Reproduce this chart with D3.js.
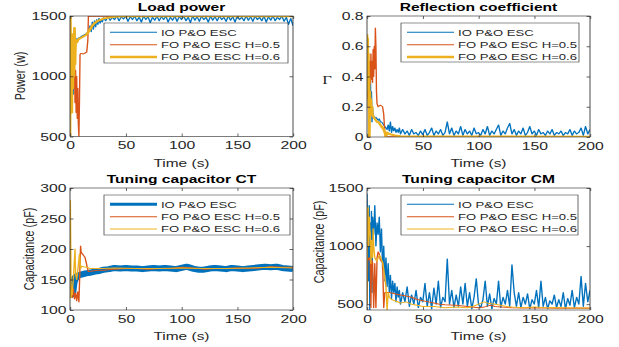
<!DOCTYPE html>
<html>
<head>
<meta charset="utf-8">
<script src="https://cdn.jsdelivr.net/npm/d3@7"></script>
<style>
  body { margin: 0; background: #fff; }
  svg { display: block; }
  text { font-family: "Liberation Sans", Arial, Helvetica, sans-serif; fill: #262626; }
</style>
</head>
<body>
<svg id="chart"></svg>
<script>
// ---- data: [time (s), value] ----
const seriesNames = ['IO P&O ESC', 'FO P&O ESC H=0.5', 'FO P&O ESC H=0.6'];
const xTicks = [0, 50, 100, 150, 200];

const powerIO = [[0,1050],[0.5,1250],[1,1100],[1.5,1350],[2,1060],[2.5,1300],[3,850],[3.5,1150],[4,1380],[4.5,1250],
  [5,1320],[6,1290],[7,1310],[8,1320],[9,1315],[10,1330],[11,1335],[12,1340],[13,1345],[14,1350],[15,1355],[16,1370],
  [17,1380],[18,1420],[19,1370],[20,1450],[21,1390],[22,1460],[23,1410],[24,1470],[25,1430],[26,1480],[27,1440],
  [28,1470],[29,1450],[30,1485],[32,1460],[34,1495],[36,1465],[38,1490],[40,1470],[42,1500],[44,1460],[46,1495],
  [48,1475],[50,1500],[52,1455],[54,1495],[56,1470],[58,1500],[60,1460],[62,1490],[64,1450],[66,1500],[68,1470],
  [70,1495],[72,1445],[74,1490],[76,1465],[78,1500],[80,1460],[82,1495],[84,1470],[86,1500],[88,1450],[90,1490],
  [92,1465],[94,1500],[96,1455],[98,1495],[100,1470],[102,1500],[104,1460],[106,1490],[108,1445],[110,1500],
  [112,1465],[114,1495],[116,1455],[118,1500],[120,1470],[122,1490],[124,1450],[126,1500],[128,1465],[130,1495],
  [132,1460],[134,1500],[136,1470],[138,1490],[140,1455],[142,1500],[144,1465],[146,1495],[148,1450],[150,1500],
  [152,1470],[154,1490],[156,1460],[158,1500],[160,1465],[162,1495],[164,1455],[166,1500],[168,1470],[170,1490],
  [172,1460],[174,1500],[176,1450],[178,1495],[180,1465],[182,1500],[184,1460],[186,1490],[188,1470],[190,1500],
  [192,1455],[194,1490],[196,1430],[198,1480],[200,1420]];
const powerH5 = [[0,600],[0.5,1000],[1,1150],[1.5,900],[2,1250],[2.5,1000],[3,1200],[3.5,900],[4,1100],[4.5,780],
  [5,1050],[5.5,700],[6,1000],[6.5,650],[7,900],[7.5,600],[8,500],[8.5,800],[9,1180],[10,1190],[12,1185],[14,1195],
  [15,1200],[16,1300],[16.5,1498],[200,1498]];
const powerH6 = [[0,500],[0.3,1500],[0.8,1000],[1.2,1300],[1.6,700],[2,1200],[2.5,900],[3,1350],[3.5,1000],[4,1400],
  [4.5,1100],[5,1300],[6,1280],[7,1300],[8,1310],[10,1320],[12,1330],[14,1340],[16,1360],[18,1390],[20,1420],
  [22,1440],[25,1460],[30,1478],[35,1488],[40,1493],[50,1497],[200,1498]];

const gammaIO = [[0,0.35],[0.5,0.28],[1,0.42],[1.5,0.25],[2,0.38],[2.5,0.2],[3,0.44],[3.5,0.15],[4,0.3],[4.5,0.1],
  [5,0.2],[5.5,0.13],[6,0.14],[7,0.12],[8,0.13],[9,0.12],[10,0.11],[11,0.12],[12,0.1],[13,0.1],[14,0.09],[15,0.08],
  [16,0.07],[17,0.06],[18,0.05],[19,0.08],[20,0.04],[21,0.1],[22,0.03],[23,0.07],[24,0.04],[25,0.06],[26,0.03],
  [27,0.05],[28,0.03],[29,0.06],[30,0.02],[32,0.05],[34,0.02],[36,0.04],[38,0.01],[40,0.05],[42,0.02],[44,0.03],
  [46,0.01],[48,0.04],[50,0.015],[52,0.05],[54,0.01],[56,0.03],[58,0.06],[60,0.01],[62,0.04],[64,0.02],[66,0.05],
  [68,0.01],[70,0.03],[72,0.1],[74,0.02],[76,0.06],[78,0.01],[80,0.04],[82,0.02],[84,0.07],[86,0.01],[88,0.05],
  [90,0.02],[92,0.04],[94,0.01],[96,0.06],[98,0.02],[100,0.03],[102,0.01],[104,0.05],[106,0.02],[108,0.07],
  [110,0.01],[112,0.04],[114,0.02],[116,0.05],[118,0.08],[120,0.01],[122,0.04],[124,0.02],[126,0.06],[128,0.09],
  [130,0.02],[132,0.05],[134,0.01],[136,0.04],[138,0.02],[140,0.06],[142,0.01],[144,0.03],[146,0.07],[148,0.02],
  [150,0.04],[152,0.01],[154,0.05],[156,0.02],[158,0.03],[160,0.01],[162,0.04],[164,0.02],[166,0.05],[168,0.01],
  [170,0.03],[172,0.02],[174,0.04],[176,0.01],[178,0.03],[180,0.02],[182,0.05],[184,0.01],[186,0.04],[188,0.02],
  [190,0.03],[192,0.06],[194,0.01],[196,0.07],[198,0.02],[200,0.05]];
const gammaH5 = [[0,0.25],[0.5,0.4],[1,0.3],[1.5,0.45],[2,0.33],[2.5,0.5],[3,0.35],[3.5,0.55],[4,0.38],[4.5,0.5],
  [5,0.36],[5.5,0.58],[6,0.4],[6.5,0.6],[7,0.45],[7.5,0.72],[8,0.6],[8.5,0.3],[9,0.22],[10,0.2],[12,0.21],[14,0.2],
  [15,0.15],[16,0.02],[17,0.005],[200,0.003]];
const gammaH6 = [[0,0.68],[0.3,0.5],[0.6,0.65],[0.9,0.3],[1.2,0.55],[1.5,0.2],[1.8,0.4],[2.1,0],[2.5,0.3],[3,0.2],
  [3.5,0.25],[4,0.15],[4.5,0.2],[5,0.14],[6,0.13],[7,0.12],[8,0.11],[9,0.1],[10,0.1],[11,0.09],[12,0.08],[13,0.07],
  [14,0.06],[15,0.05],[16,0.03],[17,0],[18,0.03],[20,0.02],[25,0.01],[30,0.005],[200,0.002]];

const ctIO = [[0,135],[1,125],[2,130],[3,145],[4,150],[5,153],[6,155],[8,157],[10,158],[14,160],[18,161],[22,163],
  [26,164],[30,166],[35,167],[40,169],[45,168],[50,169],[55,168],[60,168],[65,167],[70,168],[75,169],[80,168],
  [85,169],[90,168],[95,167],[100,169],[105,171],[110,168],[115,166],[120,166],[125,168],[130,169],[135,168],
  [140,167],[145,169],[150,168],[155,167],[160,168],[165,169],[170,170],[175,171],[180,170],[185,171],[190,169],
  [195,168],[200,167]];
const ctH5 = [[0,130],[1,140],[2,120],[3,135],[4,118],[5,128],[6,115],[7,130],[8,113],[8.8,160],[9.5,205],[10,195],
  [11,192],[12,190],[13.5,186],[14.5,178],[15.5,170],[16.5,163],[20,164],[25,165],[30,165],[35,166],[40,167],
  [50,168],[60,168],[70,167],[80,168],[90,168],[100,170],[110,169],[120,167],[130,168],[140,168],[150,169],
  [160,168],[170,169],[180,171],[190,170],[200,170]];
const ctH6 = [[0,120],[0.3,280],[0.7,200],[1,120],[1.5,130],[2,125],[2.5,140],[3,150],[4.5,200],[5,160],[6,150],
  [7,165],[8.5,192],[9.5,168],[10.5,172],[12,171],[15,170],[18,168],[20,168],[30,168],[40,169],[60,168],[80,168],
  [100,169],[120,168],[140,168],[160,169],[180,170],[200,169]];

const cmIO = [[0,1450],[0.5,1100],[1,1300],[1.5,700],[2,1350],[2.5,450],[3,1200],[3.5,900],[4,1300],[4.5,600],
  [5,1250],[6,1100],[7,1350],[8,1000],[9,1200],[10,1100],[11,1250],[12,950],[13,1150],[14,800],[15,1000],[16,700],
  [17,900],[18,650],[19,850],[20,600],[21,750],[22,550],[23,700],[24,600],[25,680],[26,520],[27,650],[28,560],
  [29,620],[30,500],[32,600],[34,520],[36,650],[38,480],[40,580],[42,500],[44,620],[46,470],[48,560],[50,520],
  [52,680],[54,480],[56,600],[58,460],[60,640],[62,500],[64,700],[66,470],[68,560],[70,520],[72,890],[74,500],
  [76,620],[78,470],[80,580],[82,480],[84,650],[86,500],[88,680],[90,480],[92,600],[94,460],[96,560],[98,720],
  [100,500],[102,470],[104,540],[106,700],[108,480],[110,590],[112,460],[114,550],[116,500],[118,700],[120,470],
  [122,560],[124,500],[126,620],[128,480],[130,840],[132,600],[134,480],[136,600],[138,470],[140,560],[142,500],
  [144,590],[146,460],[148,540],[150,500],[152,620],[154,470],[156,700],[158,480],[160,560],[162,460],[164,530],
  [166,500],[168,580],[170,470],[172,540],[174,480],[176,600],[178,460],[180,550],[182,490],[184,620],[186,470],
  [188,560],[190,500],[192,740],[194,480],[196,680],[198,520],[200,620]];
const cmH5 = [[0,500],[0.5,900],[1,880],[2,900],[3,870],[3.5,470],[4,880],[5,860],[6,470],[7,850],[8,470],[9,900],
  [10,950],[11,930],[12,880],[13,870],[14,860],[15,470],[16,600],[20,600],[25,590],[30,580],[35,570],[40,560],
  [45,540],[50,530],[55,520],[60,510],[65,500],[70,495],[80,490],[90,480],[100,470],[105,475],[110,490],[115,480],
  [120,475],[130,470],[140,468],[150,470],[160,468],[170,466],[180,465],[190,467],[200,465]];
const cmH6 = [[0,500],[0.3,1330],[1,1330],[1.5,1000],[2,1250],[2.5,1150],[3,1100],[3.5,850],[4,1050],[5,900],
  [5.5,1150],[6,1000],[7,900],[8,880],[9,870],[10,900],[11,920],[12,910],[13,880],[14,860],[15,800],[16,720],
  [17,650],[18,450],[19,600],[20,560],[22,540],[25,530],[30,510],[35,520],[40,500],[45,490],[50,480],[60,480],
  [70,470],[80,475],[90,470],[95,480],[100,500],[105,520],[110,505],[115,500],[120,490],[125,480],[130,475],
  [140,470],[150,475],[160,470],[170,472],[180,470],[190,468],[200,470]];

// ---- layout (screen pixels; the picture is stretched horizontally) ----
const W = 619, H = 347, SX = 1.38;
const colors = ['#0072BD', '#D95319', '#EDB120'];
const axisColor = '#262626';

const svg = d3.select('#chart')
  .attr('width', W).attr('height', H)
  .attr('viewBox', `0 0 ${W / SX} ${H}`)
  .attr('preserveAspectRatio', 'none');

const panels = [
  {l: 70, r: 293, t: 16, b: 136.5, domain: [500, 1500], yTicks: [500, 1000, 1500],
   title: 'Load power', ylabel: 'Power (w)', ylx: 20, yly: 76, data: [powerIO, powerH5, powerH6],
   widths: [1, 1, 2], legWidths: [1, 1, 2.5], leg: {x: 104, y: 23, w: 184, h: 40}},
  {l: 367, r: 590, t: 16, b: 137, domain: [0, 0.8], yTicks: [0, 0.2, 0.4, 0.6, 0.8],
   title: 'Reflection coefficient', ylabel: 'Γ', upright: true, ylx: 327, yly: 80, data: [gammaIO, gammaH5, gammaH6],
   widths: [1, 1, 2], legWidths: [1, 1, 2.5], leg: {x: 401, y: 23, w: 178, h: 39}},
  {l: 70, r: 293, t: 188, b: 310, domain: [100, 300], yTicks: [100, 150, 200, 250, 300],
   title: 'Tuning capacitor CT', ylabel: 'Capacitance (pF)', ylx: 29, yly: 249, data: [ctIO, ctH5, ctH6],
   widths: [6, 1, 1], legWidths: [3, 1, 1], leg: {x: 104, y: 195, w: 186, h: 40}},
  {l: 367, r: 590, t: 188, b: 310, domain: [450, 1500], yTicks: [500, 1000, 1500],
   title: 'Tuning capacitor CM', ylabel: 'Capacitance (pF)', ylx: 319, yly: 242, data: [cmIO, cmH5, cmH6],
   widths: [1, 1, 1], legWidths: [1, 1, 1], leg: {x: 401, y: 195, w: 177, h: 40}}
];

panels.forEach((p, i) => drawPanel(p, i));

function drawPanel(p, i) {
  const x = d3.scaleLinear().domain([0, 200]).range([p.l / SX, p.r / SX]);
  const y = d3.scaleLinear().domain(p.domain).range([p.b, p.t]);
  const g = svg.append('g');

  g.append('clipPath').attr('id', 'clip' + i)
    .append('rect')
    .attr('x', x(0)).attr('y', p.t)
    .attr('width', x(200) - x(0)).attr('height', p.b - p.t);

  const line = d3.line().x(d => x(d[0])).y(d => y(d[1]));
  p.data.forEach((s, k) => {
    g.append('path')
      .datum(s)
      .attr('clip-path', `url(#clip${i})`)
      .attr('fill', 'none')
      .attr('stroke', colors[k])
      .attr('stroke-width', p.widths[k])
      .attr('stroke-linejoin', 'round')
      .attr('d', line);
  });

  const yFmt = p.domain[1] < 1 ? (d => d === 0 ? '0' : d3.format('.1f')(d)) : d3.format('d');

  // axes, ticks pointing inward (MATLAB style)
  g.append('g').attr('transform', `translate(0,${p.b})`)
    .call(d3.axisBottom(x).tickValues(xTicks).tickSize(-3).tickPadding(4.5));
  g.append('g').attr('transform', `translate(${x(0)},0)`)
    .call(d3.axisLeft(y).tickValues(p.yTicks).tickFormat(yFmt).tickSize(-2.5).tickPadding(2.5));
  g.append('g').attr('transform', `translate(0,${p.t})`)
    .call(d3.axisTop(x).tickValues(xTicks).tickSize(-3).tickFormat(''));
  g.append('g').attr('transform', `translate(${x(200)},0)`)
    .call(d3.axisRight(y).tickValues(p.yTicks).tickSize(-2.5).tickFormat(''));

  g.selectAll('.domain').remove();
  g.selectAll('.tick line').attr('stroke', axisColor).attr('stroke-width', 0.6);
  g.selectAll('.tick text').attr('fill', axisColor).attr('font-family', null).style('font-size', '11.4px');

  g.append('rect')
    .attr('x', x(0)).attr('y', p.t)
    .attr('width', x(200) - x(0)).attr('height', p.b - p.t)
    .attr('fill', 'none').attr('stroke', axisColor).attr('stroke-width', 0.6);

  // title and axis labels
  g.append('text')
    .attr('x', (x(0) + x(200)) / 2).attr('y', p.t - 4.5)
    .attr('text-anchor', 'middle')
    .style('font-size', '11.3px').style('font-weight', 'bold').style('fill', '#000')
    .text(p.title);

  g.append('text')
    .attr('x', (x(0) + x(200)) / 2).attr('y', p.b + 30.5)
    .attr('text-anchor', 'middle')
    .style('font-size', '11.2px')
    .text('Time (s)');

  if (p.upright) {
    g.append('text')
      .attr('x', p.ylx / SX).attr('y', p.yly).attr('dy', '0.35em')
      .attr('text-anchor', 'middle')
      .style('font-family', '"Liberation Serif", "DejaVu Serif", serif')
      .style('font-size', '12px')
      .text(p.ylabel);
  } else {
    g.append('text')
      .attr('transform', `translate(${p.ylx / SX},${p.yly}) rotate(-90)`)
      .attr('dy', '0.35em')
      .attr('text-anchor', 'middle')
      .style('font-size', '10.8px')
      .text(p.ylabel);
  }

  // legend
  const lg = g.append('g');
  lg.append('rect')
    .attr('x', p.leg.x / SX).attr('y', p.leg.y)
    .attr('width', p.leg.w / SX).attr('height', p.leg.h)
    .attr('fill', '#fff').attr('stroke', axisColor).attr('stroke-width', 0.5);
  seriesNames.forEach((name, k) => {
    const ly = p.leg.y + 9.3 + k * 12.4;
    lg.append('line')
      .attr('x1', (p.leg.x + 6) / SX).attr('x2', (p.leg.x + 53) / SX)
      .attr('y1', ly).attr('y2', ly)
      .attr('stroke', colors[k]).attr('stroke-width', p.legWidths[k]);
    lg.append('text')
      .attr('x', (p.leg.x + 57) / SX).attr('y', ly).attr('dy', '0.35em')
      .style('font-size', '9.5px')
      .text(name);
  });
}
</script>
</body>
</html>
